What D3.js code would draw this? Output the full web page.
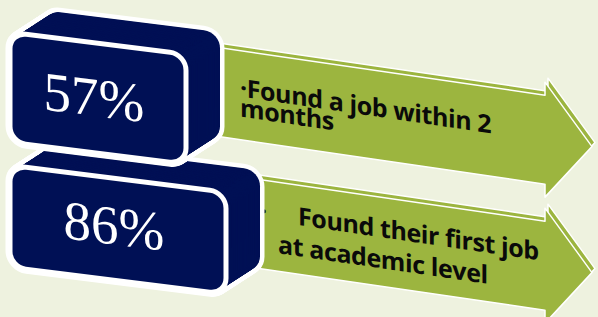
<!DOCTYPE html>
<html>
<head>
<meta charset="utf-8">
<script src="https://cdn.jsdelivr.net/npm/d3@7"></script>
<style>
  body { margin: 0; background: #EEF2DF; }
  svg { display: block; }
</style>
</head>
<body>
<div id="chart"></div>
<script>
// data
var values = [57, 86];
var lines = [["·Found a job within 2", "months"], ["Found their first job", "at academic level"]];
var bullets = ["", "·"];

var W = 598, H = 317;
var navy = "#001055", green = "#9CB53F", bg = "#EEF2DF";

var svg = d3.select("#chart").append("svg")
    .attr("width", W)
    .attr("height", H);

svg.append("rect").attr("width", W).attr("height", H).attr("fill", bg);

var idx = d3.range(values.length);
var boxY = d3.scalePoint().domain(idx).range([31, 164]);
var arrowY = d3.scalePoint().domain(idx).range([48, 174]);

// layout per row
var boxW = [176, 216], boxH = [110, 102];
var depth = [34, -22];
var boxSkew = Math.atan(0.125) * 180 / Math.PI;
var arrowSkew = Math.atan(0.146) * 180 / Math.PI;
var lineX = [[18, 18], [76, 56]];
var lineY = [[46, 66], [40, 71]];
var textDy = [18, 15];

// arrow outline, local coords
var arrowPts = [[-10, 0], [323, 0], [323, -13], [370, 44.5], [323, 102], [323, 89], [-10, 89]];
var arrowLine = d3.line();

function drawArrow(i) {
    var y0 = arrowY(i);
    // back copy gives the thin 3d edge
    svg.append("path")
	.attr("d", arrowLine(arrowPts) + "Z")
	.attr("transform", "translate(225," + (y0 - 4) + ") skewY(" + arrowSkew + ")")
	.attr("fill", green)
	.attr("stroke", "#fff")
	.attr("stroke-width", 1.5)
	.attr("stroke-linejoin", "round");

    var g = svg.append("g")
	.attr("transform", "translate(222," + y0 + ") skewY(" + arrowSkew + ")");

    g.append("path")
	.attr("d", arrowLine(arrowPts) + "Z")
	.attr("fill", green)
	.attr("stroke", "#fff")
	.attr("stroke-width", 1.5)
	.attr("stroke-linejoin", "round");

    g.selectAll("text.lbl")
	.data(lines[i])
	.join("text")
	.attr("class", "lbl")
	.attr("x", function(d, j) { return lineX[i][j]; })
	.attr("y", function(d, j) { return lineY[i][j]; })
	.attr("font-family", "'Open Sans', sans-serif")
	.attr("font-weight", 700)
	.attr("font-size", 25)
	.attr("letter-spacing", -0.4)
	.attr("fill", "#0a0a0a")
	.text(function(d) { return d; });

    if (bullets[i]) {
	g.append("text")
	    .attr("x", 38)
	    .attr("y", lineY[i][0])
	    .attr("font-family", "'Open Sans', sans-serif")
	    .attr("font-weight", 700)
	    .attr("font-size", 25)
	    .attr("fill", "#0a0a0a")
	    .text(bullets[i]);
    }
}

function drawBox(i) {
    var g = svg.append("g");
    var steps = 40;
    var ts = d3.range(steps + 1).map(function(d) { return 1 - d / steps; });
    var x = 10, y = boxY(i), w = boxW[i], h = boxH[i];

    function place(sel) {
	sel.attr("transform", function(t) {
	    return "translate(" + t * depth[0] + "," + t * depth[1] + ") skewY(" + boxSkew + ")";
	})
	    .attr("x", x).attr("y", y)
	    .attr("width", w).attr("height", h)
	    .attr("rx", 16).attr("ry", 16);
    }

    // white outline of the whole block
    g.selectAll("rect.sil").data(ts).join("rect")
	.attr("class", "sil")
	.call(place)
	.attr("fill", "#fff")
	.attr("stroke", "#fff")
	.attr("stroke-width", 9);

    g.selectAll("rect.body").data(ts).join("rect")
	.attr("class", "body")
	.call(place)
	.attr("fill", navy);

    // front face
    g.selectAll("rect.front").data([0]).join("rect")
	.attr("class", "front")
	.call(place)
	.attr("fill", navy)
	.attr("stroke", "#fff")
	.attr("stroke-width", 5);

    g.append("text")
	.attr("transform", "skewY(" + boxSkew + ")")
	.attr("x", x + w / 2 - 4)
	.attr("y", y + h / 2 + textDy[i])
	.attr("text-anchor", "middle")
	.attr("font-family", "'Liberation Serif', 'Times New Roman', serif")
	.attr("font-size", 55)
	.attr("fill", "#fff")
	.text(values[i] + "%");
}

drawArrow(1);
drawArrow(0);
drawBox(1);
drawBox(0);
</script>
</body>
</html>
